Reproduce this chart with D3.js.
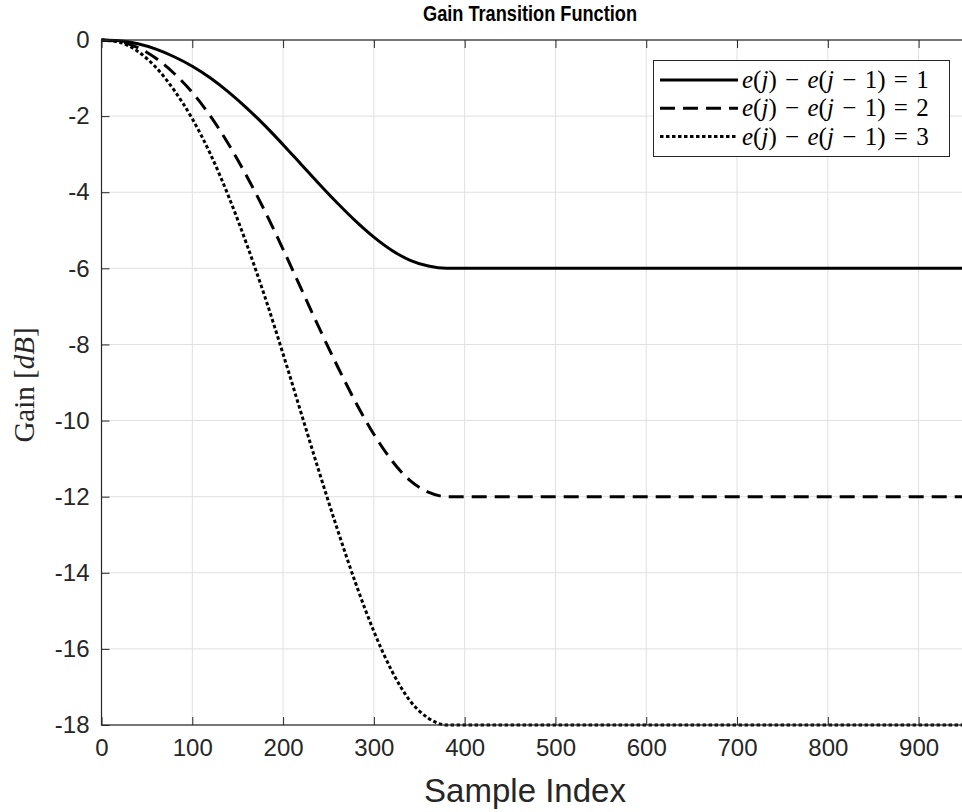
<!DOCTYPE html>
<html>
<head>
<meta charset="utf-8">
<script src="https://cdn.jsdelivr.net/npm/d3@7"></script>
<style>
  body { margin: 0; background: #fff; }
  svg { display: block; }
</style>
</head>
<body>
<svg id="chart" width="962" height="812"></svg>
<script>
// DATA
var sampleIdx = [0, 20, 40, 60, 80, 100, 120, 140, 160, 180, 200, 220, 240, 260, 280, 300, 320, 340, 360, 380, 950];
var gainStep1 = [0, -0.02, -0.10, -0.24, -0.44, -0.69, -1.00, -1.37, -1.79, -2.25, -2.75, -3.27, -3.79, -4.29, -4.76, -5.18, -5.53, -5.79, -5.94, -6.00, -6.00];
var gainStep2 = [0, -0.04, -0.20, -0.48, -0.88, -1.38, -2.00, -2.74, -3.58, -4.50, -5.50, -6.54, -7.58, -8.58, -9.52, -10.36, -11.06, -11.58, -11.88, -12.00, -12.00];
var gainStep3 = [0, -0.06, -0.30, -0.72, -1.32, -2.07, -3.00, -4.11, -5.37, -6.75, -8.25, -9.81, -11.37, -12.87, -14.28, -15.54, -16.59, -17.37, -17.82, -18.00, -18.00];
var seriesNames = ['1', '2', '3'];
var xTicks = [0, 100, 200, 300, 400, 500, 600, 700, 800, 900];
var yTicks = [0, -2, -4, -6, -8, -10, -12, -14, -16, -18];

var svg = d3.select('#chart');
var axisColor = '#262626';
var gridColor = '#e0e0e0';
var sansFont = '"Liberation Sans", Arial, Helvetica, sans-serif';
var serifFont = '"Liberation Serif", "Times New Roman", serif';

// scales
var x = d3.scaleLinear().domain([0, 950]).range([101.5, 964]);
var y = d3.scaleLinear().domain([-18, 0]).range([725, 40]);

//.......................................................................//
// GRID
var grid = svg.append('g');
grid.selectAll('line.gx').data(xTicks).enter().append('line')
    .attr('x1', d => x(d)).attr('x2', d => x(d))
    .attr('y1', y(0)).attr('y2', y(-18))
    .style('stroke', gridColor).style('stroke-width', 1);
grid.selectAll('line.gy').data(yTicks).enter().append('line')
    .attr('x1', x(0)).attr('x2', x(950))
    .attr('y1', d => y(d)).attr('y2', d => y(d))
    .style('stroke', gridColor).style('stroke-width', 1);

//.......................................................................//
// CURVES
var series = [
    { name: seriesNames[0], values: gainStep1, dash: null },
    { name: seriesNames[1], values: gainStep2, dash: '15,8' },
    { name: seriesNames[2], values: gainStep3, dash: '3.5,2.5' }
];
var line = d3.line()
    .x(d => x(d[0]))
    .y(d => y(d[1]))
    .curve(d3.curveMonotoneX);

series.forEach(function(s) {
    svg.append('path')
        .datum(sampleIdx.map((n, i) => [n, s.values[i]]))
        .attr('d', line)
        .style('fill', 'none')
        .style('stroke', '#000')
        .style('stroke-width', 3)
        .style('stroke-dasharray', s.dash);
});

//.......................................................................//
// AXES
var xAxisB = d3.axisBottom(x).tickValues(xTicks).tickSizeInner(-8).tickSizeOuter(0).tickPadding(14).tickFormat(d => String(d));
var xAxisT = d3.axisTop(x).tickValues(xTicks).tickSizeInner(-8).tickSizeOuter(0).tickFormat('');
var yAxisL = d3.axisLeft(y).tickValues(yTicks).tickSizeInner(-8).tickSizeOuter(0).tickPadding(12).tickFormat(d => String(d));

function styleAxis(g) {
    g.select('.domain').remove();
    g.selectAll('.tick line').style('stroke', axisColor).style('stroke-width', 1);
    g.selectAll('.tick text')
        .style('fill', axisColor)
        .style('font-family', sansFont)
        .style('font-size', '24px');
}
svg.append('g').attr('transform', 'translate(0,' + y(-18) + ')').call(xAxisB).call(styleAxis);
svg.append('g').attr('transform', 'translate(0,' + y(0) + ')').call(xAxisT).call(styleAxis);
svg.append('g').attr('transform', 'translate(' + x(0) + ',0)').call(yAxisL).call(styleAxis);

// box
svg.append('rect')
    .attr('x', x(0)).attr('y', y(0))
    .attr('width', x(950) - x(0)).attr('height', y(-18) - y(0))
    .style('fill', 'none').style('stroke', axisColor).style('stroke-width', 1.2);

//.......................................................................//
// LABELS
svg.append('text')
    .attr('x', 530).attr('y', 21)
    .attr('text-anchor', 'middle')
    .attr('textLength', 214).attr('lengthAdjust', 'spacingAndGlyphs')
    .style('font-family', sansFont).style('font-weight', 'bold').style('font-size', '22px')
    .style('fill', '#000')
    .text('Gain Transition Function');

svg.append('text')
    .attr('x', 525).attr('y', 802)
    .attr('text-anchor', 'middle')
    .style('font-family', sansFont).style('font-size', '33px')
    .style('fill', axisColor)
    .text('Sample Index');

var yLab = svg.append('text')
    .attr('transform', 'translate(34,385) rotate(-90)')
    .attr('text-anchor', 'middle')
    .style('font-family', serifFont).style('font-size', '29px')
    .style('fill', axisColor);
yLab.append('tspan').text('Gain [');
yLab.append('tspan').style('font-style', 'italic').text('dB');
yLab.append('tspan').text(']');

//.......................................................................//
// LEGEND
var legend = svg.append('g');
legend.append('rect')
    .attr('x', 653.5).attr('y', 60.5).attr('width', 296).attr('height', 96)
    .style('fill', '#fff').style('stroke', axisColor).style('stroke-width', 1);

series.forEach(function(s, i) {
    var ly = 80 + i * 28.3;
    legend.append('line')
        .attr('x1', 660).attr('x2', 738).attr('y1', ly).attr('y2', ly)
        .style('stroke', '#000').style('stroke-width', 3)
        .style('stroke-dasharray', s.dash);
    var t = legend.append('text')
        .attr('x', 742).attr('y', ly + 8)
        .style('font-family', serifFont).style('font-size', '25px')
        .style('fill', '#000');
    t.append('tspan').style('font-style', 'italic').text('e');
    t.append('tspan').text('(');
    t.append('tspan').style('font-style', 'italic').text('j');
    t.append('tspan').text(')\u2004\u2212\u2004');
    t.append('tspan').style('font-style', 'italic').text('e');
    t.append('tspan').text('(');
    t.append('tspan').style('font-style', 'italic').text('j');
    t.append('tspan').text('\u2004\u2212\u20041)\u2004=\u2004' + s.name);
});
</script>
</body>
</html>
